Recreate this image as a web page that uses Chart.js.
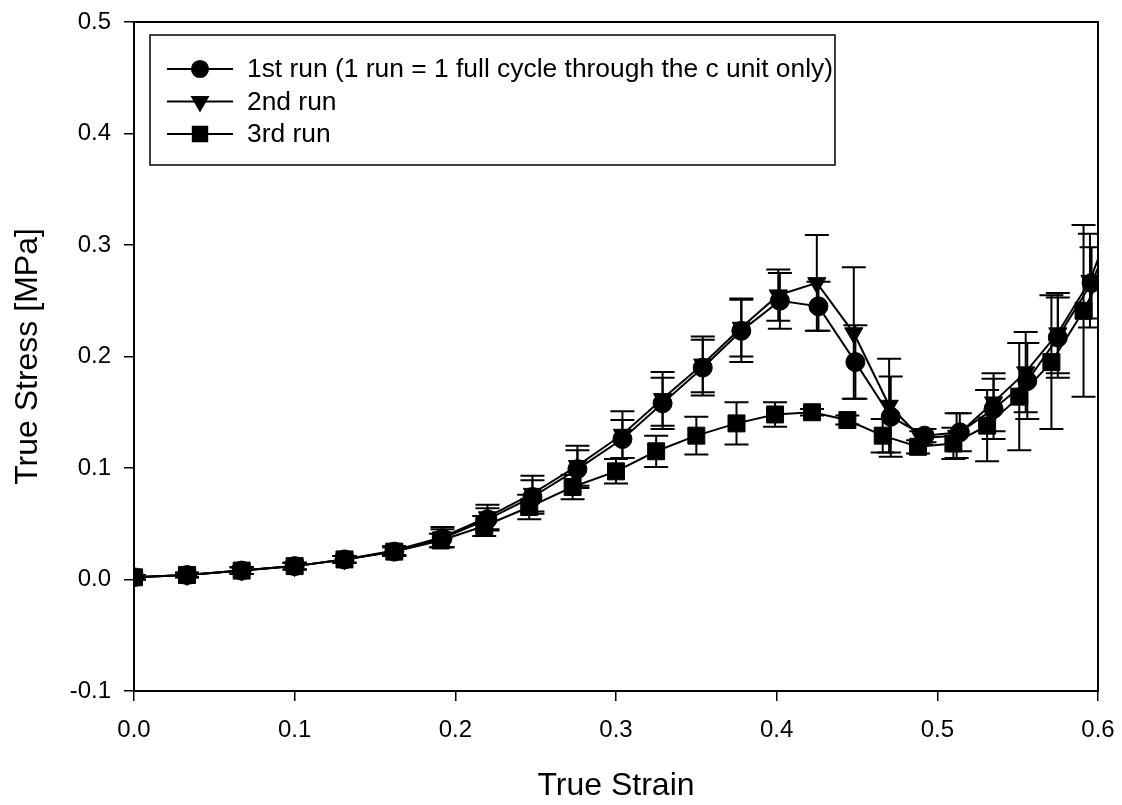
<!DOCTYPE html>
<html>
<head>
<meta charset="utf-8">
<script src="https://cdn.jsdelivr.net/npm/chart.js@4.4.1/dist/chart.umd.min.js"></script>
<style>
  html, body { margin: 0; padding: 0; background: #fff; }
  #wrap { width: 1122px; height: 805px; }
</style>
</head>
<body>
<div id="wrap"><canvas id="myChart" width="1122" height="805"></canvas></div>
<script>
// values
const labels = [
    "1st run (1 run = 1 full cycle through the c unit only)",
    "2nd run",
    "3rd run"
];

const strain1 = [0.000, 0.033, 0.067, 0.100, 0.131, 0.162, 0.192, 0.220, 0.248, 0.276, 0.304, 0.329, 0.354, 0.378, 0.402, 0.426, 0.449, 0.471, 0.492, 0.514, 0.535, 0.556, 0.575, 0.596, 0.612];
const stress1 = [0.002, 0.004, 0.008, 0.012, 0.018, 0.025, 0.037, 0.054, 0.074, 0.099, 0.126, 0.158, 0.190, 0.223, 0.250, 0.245, 0.195, 0.146, 0.129, 0.132, 0.153, 0.178, 0.217, 0.266, 0.320];
const err1    = [0.002, 0.002, 0.003, 0.003, 0.003, 0.004, 0.008, 0.010, 0.015, 0.017, 0.017, 0.023, 0.025, 0.028, 0.025, 0.022, 0.033, 0.036, 0.006, 0.017, 0.027, 0.034, 0.036, 0.032, 0.040];

const strain2 = [0.000, 0.033, 0.067, 0.100, 0.131, 0.162, 0.192, 0.220, 0.248, 0.276, 0.304, 0.329, 0.354, 0.378, 0.401, 0.425, 0.448, 0.470, 0.490, 0.512, 0.535, 0.555, 0.575, 0.595, 0.611];
const stress2 = [0.002, 0.004, 0.008, 0.012, 0.018, 0.026, 0.038, 0.056, 0.077, 0.102, 0.130, 0.162, 0.193, 0.226, 0.255, 0.266, 0.221, 0.156, 0.127, 0.129, 0.159, 0.186, 0.221, 0.268, 0.330];
const err2    = [0.002, 0.002, 0.003, 0.003, 0.003, 0.004, 0.009, 0.011, 0.016, 0.018, 0.021, 0.024, 0.025, 0.026, 0.023, 0.043, 0.059, 0.042, 0.006, 0.020, 0.026, 0.036, 0.036, 0.042, 0.040];

const strain3 = [0.000, 0.033, 0.067, 0.100, 0.131, 0.162, 0.191, 0.218, 0.246, 0.273, 0.300, 0.325, 0.350, 0.375, 0.399, 0.422, 0.444, 0.466, 0.488, 0.510, 0.531, 0.551, 0.571, 0.591, 0.608];
const stress3 = [0.002, 0.004, 0.008, 0.012, 0.018, 0.025, 0.035, 0.048, 0.065, 0.083, 0.097, 0.115, 0.129, 0.140, 0.148, 0.150, 0.143, 0.129, 0.119, 0.122, 0.138, 0.164, 0.195, 0.241, 0.290];
const err3    = [0.002, 0.002, 0.003, 0.003, 0.003, 0.004, 0.006, 0.009, 0.011, 0.011, 0.011, 0.014, 0.017, 0.019, 0.011, 0.003, 0.004, 0.015, 0.006, 0.014, 0.032, 0.048, 0.060, 0.077, 0.050];

const xTicks = [0.0, 0.1, 0.2, 0.3, 0.4, 0.5, 0.6];
const yTicks = [-0.1, 0.0, 0.1, 0.2, 0.3, 0.4, 0.5];

const FONT = "'Liberation Sans', Arial, sans-serif";

const toPoints = (xs, ys, es) => xs.map((x, i) => ({ x: x, y: ys[i], err: es[i] }));

const styles = [
    { pointStyle: 'circle', radius: 9.5, rotation: 0 },
    { pointStyle: 'triangle', radius: 10.5, rotation: 180 },
    { pointStyle: 'rect', radius: 12, rotation: 0 }
];

const series = [
    toPoints(strain1, stress1, err1),
    toPoints(strain2, stress2, err2),
    toPoints(strain3, stress3, err3)
];

// error bars, drawn through the scales
const errorBars = {
    id: 'errorBars',
    beforeDatasetsDraw(chart) {
        const { ctx, chartArea, scales: { x, y } } = chart;
        ctx.save();
        ctx.beginPath();
        ctx.rect(chartArea.left, chartArea.top, chartArea.right - chartArea.left, chartArea.bottom - chartArea.top);
        ctx.clip();
        ctx.strokeStyle = '#000';
        ctx.lineWidth = 2;
        chart.data.datasets.forEach(ds => {
            ds.data.forEach(p => {
                const px = x.getPixelForValue(p.x);
                const top = y.getPixelForValue(p.y + p.err);
                const bot = y.getPixelForValue(p.y - p.err);
                const cap = 12;
                ctx.beginPath();
                ctx.moveTo(px, top); ctx.lineTo(px, bot);
                ctx.moveTo(px - cap, top); ctx.lineTo(px + cap, top);
                ctx.moveTo(px - cap, bot); ctx.lineTo(px + cap, bot);
                ctx.stroke();
            });
        });
        ctx.restore();
    }
};

// frame + legend box inside the plot
const frameAndLegend = {
    id: 'frameAndLegend',
    afterDraw(chart) {
        const { ctx, chartArea } = chart;
        ctx.save();
        ctx.strokeStyle = '#000';
        ctx.lineWidth = 2;
        ctx.strokeRect(chartArea.left, chartArea.top, chartArea.right - chartArea.left, chartArea.bottom - chartArea.top);

        const bx = chartArea.left + 16, by = chartArea.top + 13;
        ctx.lineWidth = 1.5;
        ctx.strokeRect(bx, by, 685, 130);

        ctx.font = "26.4px " + FONT;
        ctx.textBaseline = 'middle';
        ctx.fillStyle = '#000';
        chart.data.datasets.forEach((ds, i) => {
            const rowY = by + 34 + i * 32.5;
            ctx.lineWidth = 2;
            ctx.beginPath();
            ctx.moveTo(bx + 17, rowY);
            ctx.lineTo(bx + 83, rowY);
            ctx.stroke();
            const st = styles[i];
            Chart.helpers.drawPoint(ctx, {
                pointStyle: st.pointStyle,
                radius: st.radius * 0.85,
                rotation: st.rotation,
                borderWidth: 1
            }, bx + 50, rowY);
            ctx.fillText(ds.label, bx + 97, rowY + 1);
        });
        ctx.restore();
    }
};

new Chart(document.getElementById("myChart"), {
    type: "line",
    data: {
        datasets: series.map((pts, i) => ({
            label: labels[i],
            data: pts,
            borderColor: '#000',
            backgroundColor: '#000',
            borderWidth: 2,
            pointStyle: styles[i].pointStyle,
            pointRadius: styles[i].radius,
            pointRotation: styles[i].rotation,
            pointBorderColor: '#000',
            pointBackgroundColor: '#000',
            pointBorderWidth: 1,
            tension: 0,
            clip: 0
        }))
    },
    options: {
        responsive: false,
        animation: false,
        devicePixelRatio: 1,
        layout: { padding: { top: 22, right: 24, left: 0, bottom: 0 } },
        plugins: {
            legend: { display: false },
            tooltip: { enabled: false }
        },
        scales: {
            x: {
                type: 'linear',
                min: 0,
                max: 0.6,
                afterBuildTicks: s => { s.ticks = xTicks.map(v => ({ value: v })); },
                afterFit: s => { s.height = 114; s.paddingLeft = 0; s.paddingRight = 0; },
                grid: { drawOnChartArea: false, tickLength: 10, color: '#000', lineWidth: 1.5 },
                border: { display: true, color: '#000', width: 2 },
                ticks: {
                    color: '#000',
                    padding: 15,
                    maxRotation: 0,
                    font: { family: FONT, size: 24 },
                    callback: v => v.toFixed(1)
                },
                title: {
                    display: true,
                    text: 'True Strain',
                    color: '#000',
                    font: { family: FONT, size: 32 },
                    padding: { top: 0, bottom: 0 }
                }
            },
            y: {
                type: 'linear',
                min: -0.1,
                max: 0.5,
                afterBuildTicks: s => { s.ticks = yTicks.map(v => ({ value: v })); },
                afterFit: s => { s.width = 134; s.paddingTop = 0; s.paddingBottom = 0; },
                grid: { drawOnChartArea: false, tickLength: 10, color: '#000', lineWidth: 1.5 },
                border: { display: true, color: '#000', width: 2 },
                ticks: {
                    color: '#000',
                    padding: 13,
                    font: { family: FONT, size: 24 },
                    callback: v => v.toFixed(1)
                },
                title: {
                    display: true,
                    text: 'True Stress [MPa]',
                    color: '#000',
                    font: { family: FONT, size: 32 },
                    padding: { top: 9, bottom: 0 }
                }
            }
        }
    },
    plugins: [errorBars, frameAndLegend]
});
</script>
</body>
</html>
